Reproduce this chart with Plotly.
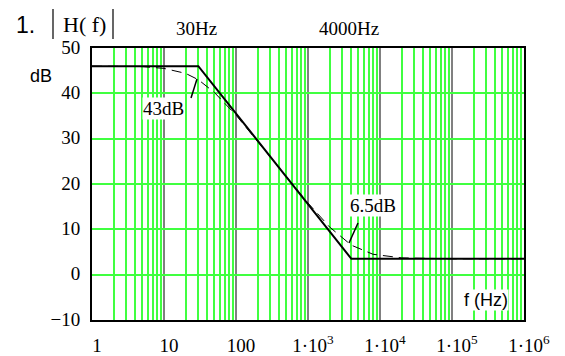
import plotly.graph_objects as go

# Asymptotic (straight-line) magnitude plot
asym_f = [1, 30, 4000, 1e6]
asym_db = [46, 46, 3.5, 3.5]

curve_f = [1, 5, 10, 20, 30, 50, 100, 200, 500, 1000, 2000, 4000, 8000, 20000, 1e5, 1e6]
curve_db = [46.0, 45.9, 45.5, 44.4, 43.0, 40.2, 35.2, 29.4, 21.6, 15.8, 10.5, 6.5, 4.5, 3.7, 3.5, 3.5]

x_tickvals = [1, 10, 100, 1e3, 1e4, 1e5, 1e6]
x_ticktext = ["1", "10", "100", "1·10<sup>3</sup>", "1·10<sup>4</sup>", "1·10<sup>5</sup>", "1·10<sup>6</sup>"]
y_tickvals = [-10, 0, 10, 20, 30, 40, 50]

minor_vals = [k * 10 ** d for d in range(6) for k in range(2, 10)]

OFF = 8  # page body margin
W, H = 565 - OFF, 356 - OFF
L, R, T, B = 92, 524, 48, 320  # plot area in screen pixels


def px(x):
    return (x - L) / (R - L)


def py(y):
    return (B - y) / (B - T)


fig = go.Figure()
fig.add_trace(go.Scatter(x=curve_f, y=curve_db, mode="lines",
                         line=dict(color="black", width=1, dash="10px,6px"),
                         showlegend=False, hoverinfo="skip"))
fig.add_trace(go.Scatter(x=asym_f, y=asym_db, mode="lines",
                         line=dict(color="black", width=2),
                         showlegend=False, hoverinfo="skip"))

serif = "Liberation Serif"
sans = "Liberation Sans"
SF = 19

fig.update_layout(
    width=W, height=H,
    margin=dict(l=L - OFF, r=OFF + W - R, t=T - OFF, b=OFF + H - B),
    paper_bgcolor="white", plot_bgcolor="white",
    xaxis=dict(type="log", range=[0, 6], tickvals=x_tickvals, ticktext=x_ticktext,
               showgrid=True, gridcolor="#808080", gridwidth=2,
               minor=dict(tickvals=minor_vals, showgrid=True, gridcolor="#40ff40", gridwidth=1.5, ticks=""),
               showline=True, linecolor="black", linewidth=2, mirror=True,
               ticks="", tickfont=dict(family=serif, size=SF, color="black"),
               ticklabelstandoff=7, ticklabelshift=5, zeroline=False, automargin=False),
    yaxis=dict(range=[-10, 50], tickvals=y_tickvals,
               showgrid=True, gridcolor="#40ff40", gridwidth=1.5,
               showline=True, linecolor="black", linewidth=2, mirror=True,
               ticks="", tickfont=dict(family=serif, size=SF, color="black"),
               ticklabelstandoff=6, ticklabelshift=-1, zeroline=False, automargin=False),
)

annos = [
    dict(text="1.", x=px(25), y=py(25), font=dict(family=sans, size=23)),
    dict(text="H( f)", x=px(84.5), y=py(24), font=dict(family=serif, size=22)),
    dict(text="30Hz", x=px(196), y=py(28), font=dict(family=serif, size=SF)),
    dict(text="4000Hz", x=px(349), y=py(28), font=dict(family=serif, size=SF)),
    dict(text="dB", x=px(41), y=py(76), font=dict(family=sans, size=18)),
    dict(text="f (Hz)", x=px(486), y=py(300), font=dict(family=sans, size=18), bgcolor="white"),
    dict(text="43dB", x=px(163), y=py(108), font=dict(family=serif, size=SF), bgcolor="white"),
    dict(text="6.5dB", x=px(373), y=py(205), font=dict(family=serif, size=SF), bgcolor="white"),
]
for a in annos:
    a["font"]["color"] = "black"
    fig.add_annotation(xref="paper", yref="paper", showarrow=False,
                       xanchor="center", yanchor="middle", borderpad=0, **a)

line_black = dict(color="black", width=1.2)
fig.add_shape(type="line", xref="paper", yref="paper", x0=px(53), x1=px(53), y0=py(9), y1=py(39), line=line_black)
fig.add_shape(type="line", xref="paper", yref="paper", x0=px(113), x1=px(113), y0=py(9), y1=py(39), line=line_black)
fig.add_shape(type="line", xref="paper", yref="paper", x0=px(197), x1=px(191), y0=py(79), y1=py(98), line=dict(color="black", width=1.5))
fig.add_shape(type="line", xref="paper", yref="paper", x0=px(358), x1=px(349), y0=py(223), y1=py(243), line=dict(color="black", width=1.5))

fig.write_html("out.html")
